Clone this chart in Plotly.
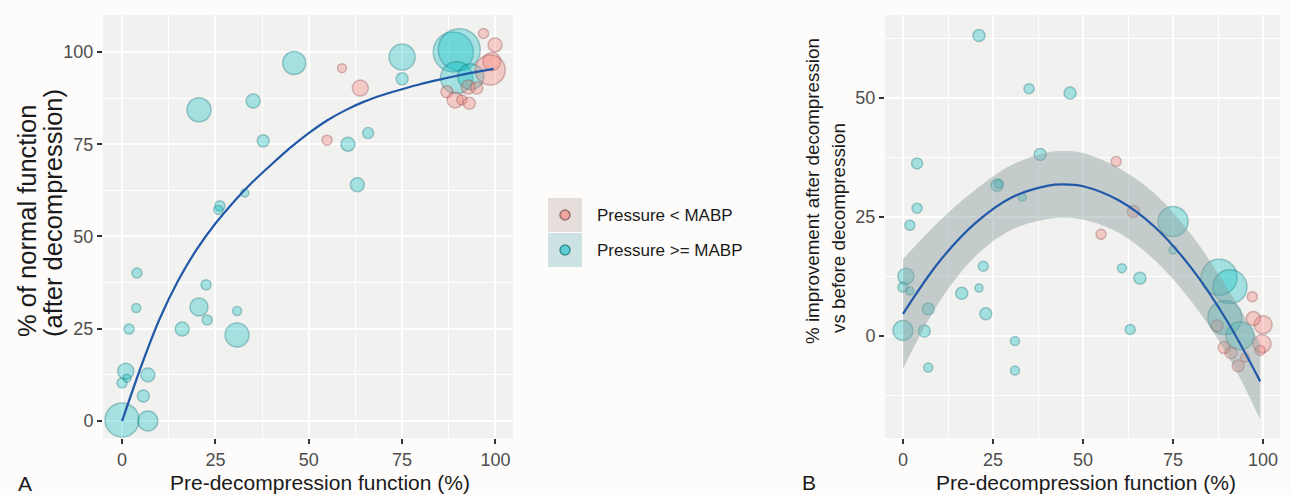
import plotly.graph_objects as go

W, H = 1290, 495

# ---------------- Panel A data ----------------
A_TEAL_X = [20.6, 35.1, 46.1, 37.8, 75.0, 75.0, 60.5, 65.9, 63.0, 32.9, 26.2, 25.8,
            88.7, 90.3, 89.6, 93.4,
            4.0, 22.5, 20.6, 3.8, 30.8, 1.9, 16.1, 22.8, 30.8, 1.0, 6.9, 0.0, 1.3, 5.7, 0.0, 6.9]
A_TEAL_Y = [84.3, 86.7, 97.0, 75.9, 98.6, 92.7, 75.0, 78.0, 64.0, 61.8, 58.3, 57.2,
            100.0, 100.6, 93.0, 93.3,
            40.1, 36.9, 30.9, 30.6, 29.8, 24.9, 24.9, 27.4, 23.3, 13.5, 12.5, 10.3, 11.6, 6.8, 0.3, 0.0]
A_TEAL_R = [12, 7, 11.5, 6, 13, 6, 7, 5.5, 7, 4, 5, 4.5,
            20, 21, 16, 13,
            5, 5, 9, 4.5, 4.5, 5, 7, 5, 12, 8, 7, 5, 4, 6, 17, 10]

A_RED_X = [58.9, 54.9, 63.8, 96.8, 99.9, 99.0, 98.6, 87.0, 89.2, 91.0, 93.0, 92.7, 95.0]
A_RED_Y = [95.6, 76.1, 90.2, 105.0, 101.9, 97.4, 95.1, 89.2, 87.0, 87.0, 86.1, 90.5, 90.2]
A_RED_R = [4.5, 5, 8, 5, 7, 9, 15, 6, 8, 5, 6, 7, 6]

A_FIT_X = [0, 5, 10, 15, 20, 25, 30, 35, 40, 45, 50, 55, 60, 65, 70, 75, 80, 85, 90, 95, 99.5]
A_FIT_Y = [0, 14.5, 27.5, 38, 46.5, 53.5, 59.5, 64.8, 69.5, 74, 78, 81.5, 84.3, 86.6, 88.4,
           89.9, 91.3, 92.5, 93.6, 94.6, 95.4]

# ---------------- Panel B data ----------------
B_TEAL_X = [21.1, 35.0, 46.4, 38.1, 3.9, 26.1, 26.6, 33.1, 3.9, 1.9, 75.0,
            75.0, 0.8, 0.0, 1.9, 22.3, 21.1, 16.3, 23.0, 7.0, 0.0, 5.9, 7.0, 31.1, 31.1,
            60.8, 65.8, 63.1, 87.8, 90.8, 89.4, 93.6]
B_TEAL_Y = [63.1, 51.9, 51.0, 38.1, 36.2, 31.6, 32.0, 29.1, 26.8, 23.2, 24.0,
            18.0, 12.5, 10.2, 9.4, 14.6, 10.0, 8.9, 4.6, 5.6, 1.1, 1.0, -6.7, -1.1, -7.3,
            14.2, 12.1, 1.3, 12.3, 10.3, 3.8, 0.0]
B_TEAL_R = [6, 5, 6, 6, 5.5, 6, 4.5, 4, 5, 5, 15,
            4, 8, 5, 4, 5, 4, 6, 6, 6, 10, 6, 4.5, 4.5, 4.5,
            4.5, 6, 5, 18, 17, 17, 14]

B_RED_X = [59.2, 64.0, 55.0, 97.0, 100.0, 97.3, 87.2, 99.7, 99.2, 89.2, 91.1, 93.1, 95.0]
B_RED_Y = [36.6, 26.1, 21.3, 8.2, 2.3, 3.6, 2.1, -1.7, -3.1, -2.5, -3.6, -6.3, -4.6]
B_RED_R = [5, 6, 5, 5, 9, 7, 6, 9, 5, 6, 6, 6, 4.5]

B_FIT_X = [0, 10, 20, 30, 40, 44.5, 50, 60, 70, 80, 90, 99.2]
B_FIT_Y = [4.6, 15.5, 23.6, 29.0, 31.5, 31.8, 31.4, 28.4, 22.8, 14.3, 3.1, -9.6]
B_FIT_LO = [-6.9, 7.0, 16.6, 22.2, 24.5, 24.8, 24.4, 21.6, 15.8, 7.3, -3.9, -17.6]
B_FIT_HI = [16.1, 24.0, 30.6, 35.8, 38.5, 38.8, 38.4, 35.2, 29.8, 21.3, 10.1, -1.6]

LEGEND_LABELS = ["Pressure < MABP", "Pressure >= MABP"]

TEAL_FILL = "rgba(0,191,196,0.45)"
TEAL_LINE = "rgba(20,120,125,0.55)"
RED_FILL = "rgba(248,118,109,0.45)"
RED_LINE = "rgba(150,80,80,0.55)"
FIT_COLOR = "#2158A8"
BAND_FILL = "rgba(140,160,160,0.45)"


def dia(rs):
    return [2 * r for r in rs]


fig = go.Figure()

# Panel A
fig.add_trace(go.Scatter(x=A_TEAL_X, y=A_TEAL_Y, mode="markers", xaxis="x", yaxis="y",
                         marker=dict(size=dia(A_TEAL_R), color=TEAL_FILL,
                                     line=dict(color=TEAL_LINE, width=1.5)), showlegend=False))
fig.add_trace(go.Scatter(x=A_RED_X, y=A_RED_Y, mode="markers", xaxis="x", yaxis="y",
                         marker=dict(size=dia(A_RED_R), color=RED_FILL,
                                     line=dict(color=RED_LINE, width=1.5)), showlegend=False))
fig.add_trace(go.Scatter(x=A_FIT_X, y=A_FIT_Y, mode="lines", xaxis="x", yaxis="y",
                         line=dict(color=FIT_COLOR, width=2.2, shape="spline", smoothing=0.6),
                         showlegend=False))

# Panel B
fig.add_trace(go.Scatter(x=B_TEAL_X, y=B_TEAL_Y, mode="markers", xaxis="x2", yaxis="y2",
                         marker=dict(size=dia(B_TEAL_R), color=TEAL_FILL,
                                     line=dict(color=TEAL_LINE, width=1.5)), showlegend=False))
fig.add_trace(go.Scatter(x=B_RED_X, y=B_RED_Y, mode="markers", xaxis="x2", yaxis="y2",
                         marker=dict(size=dia(B_RED_R), color=RED_FILL,
                                     line=dict(color=RED_LINE, width=1.5)), showlegend=False))
fig.add_trace(go.Scatter(x=B_FIT_X, y=B_FIT_LO, mode="lines", xaxis="x2", yaxis="y2",
                         line=dict(width=0, shape="spline"), showlegend=False))
fig.add_trace(go.Scatter(x=B_FIT_X, y=B_FIT_HI, mode="lines", xaxis="x2", yaxis="y2",
                         line=dict(width=0, shape="spline"), fill="tonexty",
                         fillcolor=BAND_FILL, showlegend=False))
fig.add_trace(go.Scatter(x=B_FIT_X, y=B_FIT_Y, mode="lines", xaxis="x2", yaxis="y2",
                         line=dict(color=FIT_COLOR, width=2.2, shape="spline"),
                         showlegend=False))


def px_x(p):
    return p / W


def px_y(p):
    return 1 - p / H


panel_top, panel_bot = 15, 438
ydom = [px_y(panel_bot), px_y(panel_top)]

axis_common = dict(
    showgrid=True, gridcolor="white", gridwidth=1.8, zeroline=False, showline=False,
    ticks="outside", ticklen=5, tickwidth=1.8, tickcolor="#333333",
    tickfont=dict(family="Liberation Sans, Arial, sans-serif", size=18, color="#4D4D4D"),
    tick0=0, dtick=25,
    minor=dict(showgrid=True, gridcolor="white", gridwidth=0.8, tick0=0, dtick=12.5),
)

fig.update_layout(
    width=W, height=H,
    margin=dict(l=0, r=0, t=0, b=0),
    paper_bgcolor="#FDFCFB",
    plot_bgcolor="#F1F1EF",
    font=dict(family="Liberation Sans, Arial, sans-serif", color="#1A1A1A"),
    xaxis=dict(domain=[px_x(103), px_x(513)], range=[-5.1, 104.7], anchor="y", **axis_common),
    yaxis=dict(domain=ydom, range=[-4.6, 110], anchor="x", **axis_common),
    xaxis2=dict(domain=[px_x(885), px_x(1280)], range=[-5.0, 104.7], anchor="y2", **axis_common),
    yaxis2=dict(domain=ydom, range=[-21.5, 67.4], anchor="x2", **axis_common),
    showlegend=False,
)

ann = []
TF = "Liberation Sans, Arial, sans-serif"


def add_text(text, x, y, size, angle=0, xanchor="center", yanchor="middle", color="#1A1A1A"):
    ann.append(dict(text=text, x=px_x(x), y=px_y(y), xref="paper", yref="paper",
                    showarrow=False, textangle=angle, xanchor=xanchor, yanchor=yanchor,
                    font=dict(family=TF, size=size, color=color)))


# Axis titles
add_text("Pre-decompression function (%)", 320, 482, 21)
add_text("Pre-decompression function (%)", 1086, 482, 21)
add_text("% of normal function", 27, 339, 25.5, angle=-90, yanchor="bottom")
add_text("(after decompression)", 53, 339, 25.5, angle=-90, yanchor="bottom")
add_text("% improvement after decompression", 812, 346, 18.8, angle=-90, yanchor="bottom")
add_text("vs before decompression", 838, 335, 18.8, angle=-90, yanchor="bottom")
# Panel letters
add_text("A", 25, 483, 21)
add_text("B", 809, 482, 21)
# Legend labels
add_text(LEGEND_LABELS[0], 595, 215, 17, xanchor="left")
add_text(LEGEND_LABELS[1], 595, 250, 17, xanchor="left")

fig.update_layout(annotations=ann)

shapes = [
    dict(type="rect", xref="paper", yref="paper", x0=px_x(548), x1=px_x(582),
         y0=px_y(232), y1=px_y(198), fillcolor="#E6DEDB", line=dict(width=0), layer="below"),
    dict(type="rect", xref="paper", yref="paper", x0=px_x(548), x1=px_x(582),
         y0=px_y(267), y1=px_y(233), fillcolor="#CDE3E3", line=dict(width=0), layer="below"),
    dict(type="circle", xref="paper", yref="paper", x0=px_x(560), x1=px_x(570),
         y0=px_y(220), y1=px_y(210), fillcolor="rgba(248,118,109,0.55)",
         line=dict(color="rgba(120,80,80,0.7)", width=1.5)),
    dict(type="circle", xref="paper", yref="paper", x0=px_x(560), x1=px_x(570),
         y0=px_y(255), y1=px_y(245), fillcolor="rgba(0,191,196,0.55)",
         line=dict(color="rgba(20,110,115,0.7)", width=1.5)),
]
fig.update_layout(shapes=shapes)

fig.write_html("out.html")
